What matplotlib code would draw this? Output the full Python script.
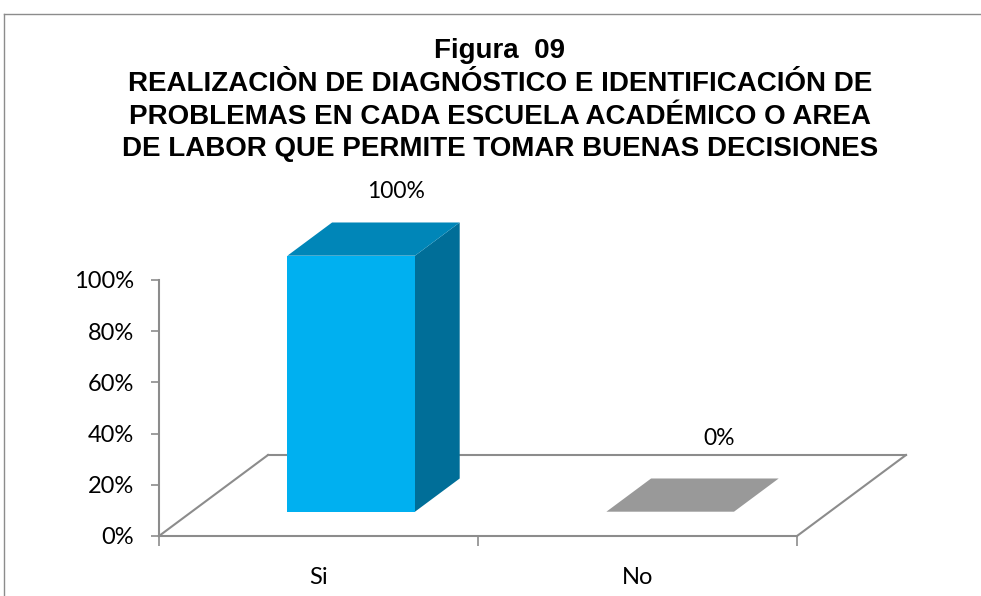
import matplotlib
matplotlib.use("Agg")
import matplotlib.pyplot as plt
from matplotlib.patches import Polygon
from matplotlib.lines import Line2D

categories = ["Si", "No"]
values = [100, 0]
value_labels = ["100%", "0%"]
yticks = [0, 20, 40, 60, 80, 100]
title_lines = ["Figura  09",
               "REALIZACIÒN DE DIAGNÓSTICO E IDENTIFICACIÓN DE",
               "PROBLEMAS EN CADA ESCUELA ACADÉMICO O AREA",
               "DE LABOR QUE PERMITE TOMAR BUENAS DECISIONES"]

W, H = 981, 596
fig = plt.figure(figsize=(W / 100, H / 100), dpi=100)
fig.patch.set_facecolor("white")

# outer border
fig.add_artist(Line2D([4 / W, 4 / W], [0, 1 - 14 / H], color="#8c8c8c", lw=1.0, transform=fig.transFigure))
fig.add_artist(Line2D([4 / W, 1], [1 - 14 / H, 1 - 14 / H], color="#8c8c8c", lw=1.0, transform=fig.transFigure))

x0, x1 = 159, 797
y0, y1 = 536, 280
ax = fig.add_axes([x0 / W, (H - y0) / H, (x1 - x0) / W, (y0 - y1) / H])
ax.set_xlim(0, len(categories))
ax.set_ylim(0, 100)

# depth projection (oblique)
DX = 109 / ((x1 - x0) / len(categories))
DY = 81 / ((y0 - y1) / 100)

def P(x, y, d):
    return (x + d * DX, y + d * DY)

grey = "#8c8c8c"
for s in ["top", "right"]:
    ax.spines[s].set_visible(False)
for s in ["left", "bottom"]:
    ax.spines[s].set_color(grey)
    ax.spines[s].set_linewidth(1.5)

# floor outline
n = len(categories)
for pts in [[P(0, 0, 0), P(0, 0, 1)], [P(0, 0, 1), P(n, 0, 1)], [P(n, 0, 0), P(n, 0, 1)]]:
    ax.add_line(Line2D([p[0] for p in pts], [p[1] for p in pts], color=grey, lw=1.5, clip_on=False, zorder=1))

d0, d1 = 0.30, 0.71
bw = 0.4
front_c = "#00B0F0"
top_c = "#0086B8"
side_c = "#006E98"
label_offsets = [(0, 22), (3, 29)]
for i, v in enumerate(values):
    xl = i + 0.5 - bw / 2
    xr = i + 0.5 + bw / 2
    if v > 0:
        front = [P(xl, 0, d0), P(xr, 0, d0), P(xr, v, d0), P(xl, v, d0)]
        side = [P(xr, 0, d0), P(xr, 0, d1), P(xr, v, d1), P(xr, v, d0)]
        top = [P(xl, v, d0), P(xr, v, d0), P(xr, v, d1), P(xl, v, d1)]
        for poly, c in [(side, side_c), (top, top_c), (front, front_c)]:
            ax.add_patch(Polygon(poly, closed=True, facecolor=c, edgecolor="none", clip_on=False, zorder=3))
    else:
        flat = [P(xl, 0, d0), P(xr, 0, d0), P(xr, 0, d1), P(xl, 0, d1)]
        ax.add_patch(Polygon(flat, closed=True, facecolor="#999999", edgecolor="none", clip_on=False, zorder=3))
    lx, ly = P(i + 0.5, v, d1)
    ax.annotate(value_labels[i], (lx, ly), xytext=label_offsets[i], textcoords="offset points",
                ha="center", va="center", fontsize=16.5, family="Lato", color="black",
                annotation_clip=False)

ax.set_yticks(yticks)
ax.set_yticklabels([f"{t}%" for t in yticks], family="Lato", fontsize=17)
ax.tick_params(axis="y", length=6, width=1.2, color=grey, pad=12)

ax.set_xticks(range(n + 1))
ax.set_xticklabels([""] * (n + 1))
ax.tick_params(axis="x", which="major", length=7, width=1.2, color=grey)
ax.set_xticks([i + 0.5 for i in range(n)], minor=True)
ax.set_xticklabels(categories, minor=True, family="Lato", fontsize=17)
ax.tick_params(axis="x", which="minor", length=0, pad=22)
ax.set_facecolor("none")

title_baselines = [58, 91, 123.5, 156]
for t, yy in zip(title_lines, title_baselines):
    fig.text(500 / W, 1 - yy / H, t, ha="center", va="baseline", fontsize=20,
             fontweight="bold", family="Liberation Sans")
fig.savefig("out.png", dpi=100)
